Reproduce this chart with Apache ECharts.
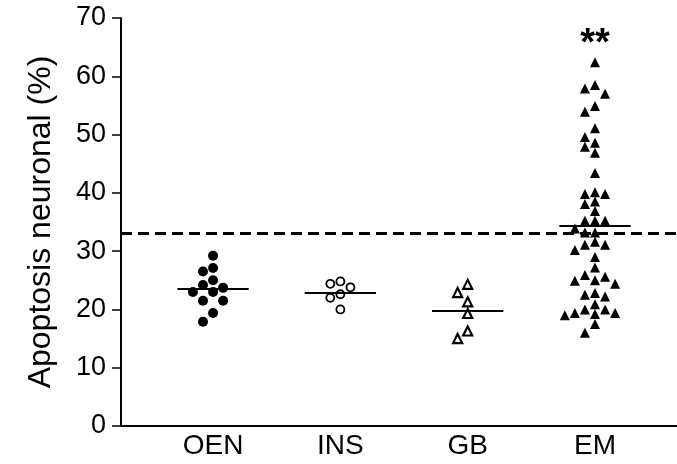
<!DOCTYPE html>
<html>
<head>
<meta charset="utf-8">
<script src="https://cdn.jsdelivr.net/npm/echarts@6/dist/echarts.min.js"></script>
<style>
  html, body { margin: 0; padding: 0; background: #fff; }
  #chart { width: 677px; height: 464px; }
</style>
</head>
<body>
<div id="chart"></div>
<script>
// Neuronal apoptosis (%) per group
const groups = ['OEN', 'INS', 'GB', 'EM'];
const oenValues = [29.2, 27.1, 26.5, 25.0, 24.2, 23.7, 23.0, 23.0, 21.5, 21.5, 19.4, 17.9];
const insValues = [24.8, 24.4, 23.8, 22.6, 22.0, 20.0];
const gbValues = [24.3, 22.9, 21.3, 19.3, 16.3, 15.0];
const emValues = [62.4, 58.5, 57.9, 57.0, 54.9, 53.9, 51.1, 49.6, 48.6, 47.9, 46.9,
  43.4, 40.1, 39.8, 39.8, 38.5, 38.1, 36.9, 35.2, 35.2, 35.2, 33.9, 33.2, 33.2,
  31.6, 31.1, 31.1, 30.2, 29.0, 27.2, 25.9, 25.6, 25.0, 24.9, 24.4, 22.8, 22.5,
  22.2, 20.9, 20.0, 20.0, 19.4, 19.4, 19.2, 19.0, 17.5, 16.0];
const thresholdValue = 33.1;
const significanceMark = '**';
const yTicks = [0, 10, 20, 30, 40, 50, 60, 70];

const FONT = 'Liberation Sans, Arial, sans-serif';

// Simple beeswarm: spread points sideways into columns so markers don't overlap
function swarm(values, center) {
  const colStep = 0.079;      // column spacing in x-axis units
  const minGap = 1.6;         // vertical clearance in y units
  const order = [0, -1, 1, -2, 2, -3, 3, -4, 4];
  const placed = [];
  return values.map(v => {
    let col = 0;
    for (const c of order) {
      const clash = placed.some(p => p.c === c && Math.abs(p.v - v) < minGap);
      if (!clash) { col = c; break; }
    }
    placed.push({ c: col, v: v });
    return [center + col * colStep, v];
  });
}

function mean(arr) { return arr.reduce((a, b) => a + b, 0) / arr.length; }

function meanLine(values, center) {
  const m = mean(values);
  return [{ coord: [center - 0.28, m] }, { coord: [center + 0.28, m] }];
}

const groupData = [oenValues, insValues, gbValues, emValues];
const styles = [
  { symbol: 'circle', size: 10, fill: '#000', stroke: '#000', lw: 0 },
  { symbol: 'circle', size: 8, fill: '#fff', stroke: '#000', lw: 1.8 },
  { symbol: 'triangle', size: 9, fill: '#fff', stroke: '#000', lw: 2.2 },
  { symbol: 'triangle', size: 10, fill: '#000', stroke: '#000', lw: 0 }
];

const series = groupData.map((vals, i) => {
  const x = i + 1;
  const s = styles[i];
  return {
    type: 'scatter',
    name: groups[i],
    data: swarm(vals, x),
    symbol: s.symbol,
    symbolSize: s.size,
    itemStyle: { color: s.fill, borderColor: s.stroke, borderWidth: s.lw, opacity: 1 },
    silent: true,
    z: 3,
    markLine: {
      silent: true,
      symbol: ['none', 'none'],
      label: { show: false },
      lineStyle: { color: '#000', width: 2, type: 'solid' },
      data: [meanLine(vals, x)],
      animation: false
    }
  };
});

// Dashed reference level across the whole plot
series[0].markLine.data.push({
  yAxis: thresholdValue,
  lineStyle: { type: [11, 6], width: 3, color: '#000' }
});

// Significance mark above the EM group
series[3].markPoint = {
  symbol: 'circle',
  symbolSize: 0,
  silent: true,
  data: [{ coord: [4, 66.8] }],
  label: {
    show: true,
    formatter: significanceMark,
    color: '#000',
    fontFamily: FONT,
    fontWeight: 'bold',
    fontSize: 38,
    position: 'inside',
    offset: [0, 8]
  },
  animation: false
};

const chart = echarts.init(document.getElementById('chart'), null, { renderer: 'canvas' });
chart.setOption({
  animation: false,
  backgroundColor: '#fff',
  grid: { left: 121, right: 0, top: 18, bottom: 38, containLabel: false },
  xAxis: {
    type: 'value',
    min: 0.277,
    max: 4.644,
    axisLine: { show: true, onZero: false, lineStyle: { color: '#000', width: 2 } },
    axisTick: { show: false },
    splitLine: { show: false },
    axisLabel: {
      customValues: [1, 2, 3, 4],
      formatter: v => groups[Math.round(v) - 1] || '',
      color: '#000',
      fontFamily: FONT,
      fontSize: 28,
      margin: 6
    }
  },
  yAxis: {
    type: 'value',
    min: 0,
    max: 70,
    interval: 10,
    name: 'Apoptosis neuronal (%)',
    nameLocation: 'middle',
    nameGap: 64,
    nameTextStyle: { color: '#000', fontFamily: FONT, fontSize: 32 },
    axisLine: { show: true, lineStyle: { color: '#000', width: 2 } },
    axisTick: { show: true, length: 9, lineStyle: { color: '#000', width: 1.5 } },
    splitLine: { show: false },
    axisLabel: {
      color: '#000',
      fontFamily: FONT,
      fontSize: 27,
      margin: 15,
      formatter: v => (yTicks.indexOf(v) >= 0 ? String(v) : '')
    }
  },
  series: series
});
</script>
</body>
</html>
